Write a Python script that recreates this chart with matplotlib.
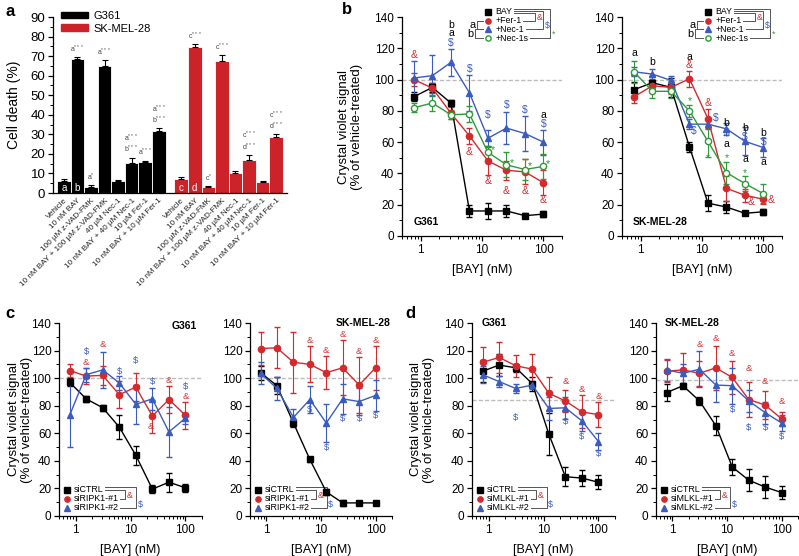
import numpy as np
import matplotlib.pyplot as plt
from matplotlib.patches import Patch
from matplotlib.ticker import MultipleLocator, LogLocator, NullFormatter, FixedLocator

plt.rcParams['font.family'] = ['Liberation Sans', 'DejaVu Sans']
plt.rcParams['mathtext.fontset'] = 'custom'
plt.rcParams['mathtext.rm'] = 'Liberation Sans'

W, H = 799, 556
RED = '#d42a2e'
BLUE = '#3b5bbf'
GREEN = '#2f9a3a'
BARRED = '#cc2229'

# ---------------- data ----------------
treatments = ["Vehicle", "10 nM BAY", "100 µM z-VAD-FMK", "10 nM BAY + 100 µM z-VAD-FMK",
              "40 µM Nec-1", "10 nM BAY + 40 µM Nec-1", "10 µM Fer-1", "10 nM BAY + 10 µM Fer-1"]
death_g361 = [6, 68.5, 3, 65, 6, 15.5, 16, 31.5]
death_g361_err = [1, 1, 1, 3, 0.5, 2.5, 0.5, 1.5]
death_sk = [7, 74.5, 3, 67.5, 10, 17, 5.5, 28.5]
death_sk_err = [1, 1.5, 0.5, 3, 1.5, 2.5, 0.5, 1.5]
inside_g361 = ["a", "b", "", "", "", "", "", ""]
inside_sk = ["c", "d", "", "", "", "", "", ""]
notes_g361 = ["", "a$^{***}$", "a$^{*}$", "a$^{***}$", "", "a$^{***}$\nb$^{***}$", "a$^{***}$", "a$^{***}$\nb$^{***}$"]
notes_sk = ["", "c$^{***}$", "c$^{*}$", "c$^{***}$", "", "c$^{***}$\nd$^{***}$", "", "c$^{***}$\nd$^{***}$"]

bay_nm = [0.78, 1.56, 3.125, 6.25, 12.5, 25, 50, 100]

b_series = ["BAY", "+Fer-1", "+Nec-1", "+Nec-1s"]
b_g361 = [[89, 95, 85, 16, 16, 16, 13, 14],
          [100, 94.5, 78.5, 64, 48, 42, 41, 34],
          [101, 102.5, 111, 91.5, 62.5, 69, 65.5, 60],
          [82, 85, 77.5, 78, 53.5, 45.5, 42.5, 44.5]]
b_g361_err = [[3, 3, 2, 4, 5, 4, 1.5, 2],
              [4, 3, 4, 5, 9, 6, 8, 8],
              [11, 13, 8.5, 11.5, 5, 10, 11, 8],
              [3, 5, 3, 5, 4, 8, 7, 8]]
b_sk = [[93.5, 98, 95, 57, 21, 18.5, 14.5, 15.5],
        [89, 96, 95, 100.5, 75, 30.5, 26, 23.5],
        [105, 103.5, 99.5, 71.5, 71.5, 68.5, 60.5, 56.5],
        [105, 92.5, 92.5, 80, 60.5, 40.5, 33.5, 27]]
b_sk_err = [[5, 4, 6, 3, 5, 4, 1, 2],
            [4, 4, 4, 5, 6, 8, 4, 3],
            [3, 3, 3, 3, 3, 4, 9, 6],
            [7, 4, 4, 4, 10, 7, 5, 6]]

c_series = ["siCTRL", "siRIPK1-#1", "siRIPK1-#2"]
c_g361 = [[97, 85, 78.5, 64.5, 44, 19.5, 24.5, 20.5],
          [105.5, 101.5, 102, 88, 93.5, 72.5, 84.5, 73],
          [73, 102.5, 106, 96.5, 81, 85, 61, 71]]
c_g361_err = [[3, 2, 2, 9, 7, 3, 7, 3],
              [5, 6, 7, 10, 10, 12, 10, 10],
              [23, 5, 13, 5, 14, 8, 18, 4]]
c_sk = [[104, 94.5, 67.5, 41, 17.5, 9.5, 9.5, 9.5],
        [121.5, 122, 111.5, 110, 104, 107.5, 95, 107.5],
        [103.5, 92.5, 71.5, 84.5, 67.5, 85, 83, 87.5]]
c_sk_err = [[5, 6, 3, 2, 2, 2, 0.5, 0.5],
            [12, 15, 22, 13, 12, 20, 20, 16],
            [8, 8, 6, 10, 14, 11, 10, 11]]

d_series = ["siCTRL", "siMLKL-#1", "siMLKL-#2"]
d_g361 = [[105, 109.5, 107.5, 96, 59.5, 28.5, 27.5, 24.5],
          [111.5, 115, 109, 106.5, 89, 83.5, 75.5, 73.5],
          [102.5, 97.5, 92.5, 95, 78, 78.5, 69, 54]]
d_g361_err = [[8, 8, 3, 5, 15, 7, 6, 5],
              [11, 11, 8, 11, 12, 8, 12, 9],
              [6, 4, 3, 3, 8, 8, 7, 6]]
d_sk = [[89.5, 94.5, 83.5, 65.5, 35.5, 26, 21, 17],
        [105, 106, 103.5, 107.5, 100.5, 84.5, 80.5, 70.5],
        [106, 103.5, 106.5, 95, 94.5, 83.5, 75, 67.5]]
d_sk_err = [[6, 2, 3, 7, 6, 8, 8, 5],
            [8, 12, 9, 16, 12, 13, 10, 5],
            [8, 7, 13, 12, 13, 8, 8, 6]]

# significance marks: (x, y, text, colour)
K = 'k'
marks_b_g361 = [(0.78, 116, '&', RED),
                (3.125, 135, 'b', K), (3.125, 129.5, 'a', K), (3.125, 123.5, '$', BLUE),
                (6.25, 106.5, '$', BLUE), (6.25, 54, '&', RED),
                (12.5, 77.5, '$', BLUE), (12.5, 35, '&', RED), (14.8, 55, '*', GREEN),
                (25, 84, '$', BLUE), (25, 29, '&', RED), (31, 46.5, '*', GREEN),
                (50, 80.5, '$', BLUE), (50, 28.5, '&', RED), (59, 45, '*', GREEN),
                (100, 77.5, 'a', K), (100, 71.5, '$', BLUE), (100, 23, '&', RED), (119, 46, '*', GREEN)]
marks_b_sk = [(0.78, 117, 'a', K), (1.56, 111, 'b', K),
              (6.25, 114.5, 'a', K), (6.25, 109, '&', RED), (6.25, 86, '*', GREEN), (7.4, 67, '$', BLUE),
              (12.5, 85, '&', RED), (16.5, 75.5, '$', BLUE), (12.5, 50, '*', GREEN),
              (25, 72, 'b', K), (25, 66, '$', BLUE), (25, 58.5, 'a', K), (25, 50, '*', GREEN),
              (50, 69, 'b', K), (50, 63, '$', BLUE), (50, 49, 'a', K), (50, 40.5, '*', GREEN), (62, 21.5, '&', RED),
              (100, 66, 'b', K), (100, 60, '$', BLUE), (100, 47, 'a', K), (132, 23, '&', RED)]
marks_c_g361 = [(1.56, 119, '$', BLUE), (1.56, 111.5, '&', RED), (3.125, 124.5, '&', RED),
                (6.25, 105, '$', BLUE), (12.5, 113, '$', BLUE), (25, 97.5, '$', BLUE),
                (23, 65, '&', RED), (50, 98, '&', RED), (100, 94, '$', BLUE), (100, 86.5, '&', RED)]
marks_c_sk = [(6.25, 127, '&', RED), (12.5, 120, '&', RED), (25, 132, '&', RED),
              (50, 119, '&', RED), (100, 127.5, '&', RED),
              (6.25, 77, '$', BLUE), (12.5, 50, '$', BLUE), (25, 70.5, '$', BLUE),
              (50, 70.5, '$', BLUE), (100, 73, '$', BLUE)]
marks_d_g361 = [(3.125, 71.5, '$', BLUE), (25, 97.5, '&', RED), (25, 68.5, '$', BLUE),
                (50, 92, '&', RED), (50, 58, '$', BLUE), (100, 86.5, '&', RED), (100, 45, '$', BLUE)]
marks_d_sk = [(3.125, 124.5, '&', RED), (6.25, 128.5, '&', RED), (12.5, 118, '&', RED),
              (25, 107, '&', RED), (50, 97.5, '&', RED), (100, 83, '&', RED),
              (12.5, 77, '$', BLUE), (25, 64.5, '$', BLUE), (50, 64, '$', BLUE), (100, 57.5, '$', BLUE)]


def px_axes(fig, x0, y0, x1, y1):
    return fig.add_axes([x0 / W, 1 - y1 / H, (x1 - x0) / W, (y1 - y0) / H])


def style(ax):
    for s in ['top', 'right']:
        ax.spines[s].set_visible(False)
    for s in ['left', 'bottom']:
        ax.spines[s].set_linewidth(0.9)
    ax.tick_params(which='major', direction='out', length=3.5, width=0.9, labelsize=8.5, pad=2)
    ax.tick_params(which='minor', direction='out', length=2, width=0.7)


def curve_axes(ax, data, errs, colors, markers, fills, marks, ref, fs_mark):
    ax.set_xscale('log')
    ax.set_xlim(0.5, 200)
    ax.set_ylim(0, 140)
    ax.axhline(ref, color='#bdbdbd', lw=1.0, ls=(0, (3, 1.5)), zorder=0)
    for vals, err, c, m, f in zip(data, errs, colors, markers, fills):
        ax.errorbar(bay_nm, vals, yerr=err, color=c, marker=m, mfc=f, mec=c, ms=4.5,
                    lw=1.0, elinewidth=0.8, capsize=2, capthick=0.8, mew=1.0)
    for x, y, t, c in marks:
        ax.text(x, y, t, color=c, fontsize=fs_mark, ha='center', va='center')
    ax.yaxis.set_major_locator(MultipleLocator(20))
    ax.yaxis.set_minor_locator(MultipleLocator(10))
    ax.xaxis.set_major_locator(FixedLocator([1, 10, 100]))
    ax.xaxis.set_major_formatter(plt.FixedFormatter(['1', '10', '100']))
    ax.xaxis.set_minor_locator(LogLocator(base=10, subs=np.arange(2, 10)))
    ax.xaxis.set_minor_formatter(NullFormatter())
    style(ax)
    ax.set_xlabel('[BAY] (nM)', fontsize=9, labelpad=6)


def bracket_legend(ax, labels, colors, markers, fills, x0, y0, dy, fs, offsets, symbols, left=()):
    # offsets: (x offset past widest label, y offset above first row) per bracket
    fig = ax.figure
    renderer = fig.canvas.get_renderer()
    inv = ax.transAxes.inverted()
    ends = []
    for i, (lab, c, m, f) in enumerate(zip(labels, colors, markers, fills)):
        y = y0 - i * dy
        ax.plot([x0], [y], marker=m, color=c, mfc=f, mec=c, ms=3.8, ls='none',
                transform=ax.transAxes, clip_on=False)
        t = ax.text(x0 + 0.05, y, lab, fontsize=fs, ha='left', va='center', transform=ax.transAxes)
        bb = t.get_window_extent(renderer)
        ends.append(inv.transform((bb.x1, bb.y0))[0] + 0.008)
    wend = max(ends)
    for j, ((dx, yoff), (sym, c)) in enumerate(zip(offsets, symbols), start=1):
        xv = wend + dx
        ya = y0 + yoff
        yb = y0 - j * dy
        ax.plot([ends[0], xv, xv, ends[j]], [ya, ya, yb, yb], color='#555555', lw=0.7,
                transform=ax.transAxes, clip_on=False)
        ax.text(xv + 0.012, yb + 0.4 * dy, sym, color=c, fontsize=fs, ha='left', va='center',
                transform=ax.transAxes)
    for i1, i2, lab, xv in left:
        y1, y2 = y0 - i1 * dy, y0 - i2 * dy
        xh = x0 - 0.03
        ax.plot([xh, xv, xv, xh], [y1, y1, y2, y2], color='#555555', lw=0.7,
                transform=ax.transAxes, clip_on=False)
        ax.text(xv - 0.01, (y1 + y2) / 2, lab, fontsize=fs + 1.5, ha='right', va='center',
                transform=ax.transAxes)


fig = plt.figure(figsize=(W / 100, H / 100), dpi=100)

# ---------------- panel a ----------------
axa = px_axes(fig, 53, 17, 287, 193)
pos_g = np.arange(8)
pos_s = np.arange(8) + 8.65
ekw = dict(ecolor='black', elinewidth=0.8, capsize=2, capthick=0.8)
axa.bar(pos_g, death_g361, width=1.0, color='black', edgecolor='white', linewidth=0.6,
        yerr=[np.zeros(8), death_g361_err], error_kw=ekw)
axa.bar(pos_s, death_sk, width=1.0, color=BARRED, edgecolor='white', linewidth=0.6,
        yerr=[np.zeros(8), death_sk_err], error_kw=ekw)
for pos, vals, errs, ins, notes in [(pos_g, death_g361, death_g361_err, inside_g361, notes_g361),
                                     (pos_s, death_sk, death_sk_err, inside_sk, notes_sk)]:
    for p, v, e, i_t, n_t in zip(pos, vals, errs, ins, notes):
        if i_t:
            axa.text(p, 2.8, i_t, color='white', fontsize=7, ha='center', va='center')
        if n_t:
            axa.text(p, v + e + 1.2, n_t, color='#444444', fontsize=5, ha='center', va='bottom',
                     linespacing=1.0)
axa.set_xlim(-0.8, 16.45)
axa.set_ylim(0, 90)
axa.yaxis.set_major_locator(MultipleLocator(10))
axa.yaxis.set_minor_locator(MultipleLocator(5))
axa.set_xticks(np.concatenate([pos_g, pos_s]))
axa.set_xticklabels(treatments + treatments, rotation=45, ha='right', rotation_mode='anchor')
style(axa)
axa.tick_params(axis='y', labelsize=9.5)
axa.tick_params(axis='x', length=0, pad=3, labelsize=5.9, labelcolor='#222222')
axa.set_ylabel('Cell death (%)', fontsize=10)
axa.yaxis.set_label_coords(-0.135, 0.5)
axa.legend(handles=[Patch(color='black'), Patch(color=BARRED)], labels=['G361', 'SK-MEL-28'],
           loc='upper left', bbox_to_anchor=(0.015, 1.06), frameon=False, fontsize=8,
           handlelength=2.4, handleheight=0.55, labelspacing=0.25, borderaxespad=0, handletextpad=0.5)

# ---------------- panel b ----------------
b_colors = ['black', RED, BLUE, GREEN]
b_markers = ['s', 'o', '^', 'o']
b_fills = ['black', RED, BLUE, 'white']
b_offsets = [(0.03, -0.007), (0.08, 0.002), (0.125, 0.011)]
b_symbols = [('&', RED), ('$', BLUE), ('*', GREEN)]
b_left = [(1, 2, 'a', 0.47), (2, 3, 'b', 0.455)]
for (x0, x1), data, errs, marks, name in [((402, 562), b_g361, b_g361_err, marks_b_g361, 'G361'),
                                           ((622, 782), b_sk, b_sk_err, marks_b_sk, 'SK-MEL-28')]:
    ax = px_axes(fig, x0, 17, x1, 236)
    curve_axes(ax, data, errs, b_colors, b_markers, b_fills, marks, 100, 7.5)
    ax.text(0.07, 0.065, name, transform=ax.transAxes, fontsize=7.5, fontweight='bold', va='center')
    bracket_legend(ax, b_series, b_colors, b_markers, b_fills, 0.535, 1.024, 0.04, 6.3,
                   b_offsets, b_symbols, b_left)
    if name == 'G361':
        ax.set_ylabel('Crystal violet signal\n(% of vehicle-treated)', fontsize=9.5, linespacing=1.1)
        ax.yaxis.set_label_coords(-0.245, 0.5)

# ---------------- panels c and d ----------------
cd_colors = ['black', RED, BLUE]
cd_markers = ['s', 'o', '^']
cd_fills = ['black', RED, BLUE]
cd_offsets = [(0.035, 0.0), (0.11, 0.014)]
cd_symbols = [('&', RED), ('$', BLUE)]
panels = [((59, 202), c_series, c_g361, c_g361_err, marks_c_g361, 100, 'G361', (0.965, 0.985, 'right'), True, -0.185),
          ((250, 392), c_series, c_sk, c_sk_err, marks_c_sk, 100, 'SK-MEL-28', (0.99, 1.0, 'right'), False, 0),
          ((472, 615), d_series, d_g361, d_g361_err, marks_d_g361, 84, 'G361', (0.07, 1.0, 'left'), True, -0.26),
          ((656, 798), d_series, d_sk, d_sk_err, marks_d_sk, 98.5, 'SK-MEL-28', (0.06, 1.0, 'left'), False, 0)]
for (x0, x1), labels, data, errs, marks, ref, name, (tx, ty, tha), ylab, ylx in panels:
    ax = px_axes(fig, x0, 323, x1, 516)
    curve_axes(ax, data, errs, cd_colors, cd_markers, cd_fills, marks, ref, 6.8)
    ax.text(tx, ty, name, transform=ax.transAxes, fontsize=7.5, fontweight='bold', ha=tha, va='center')
    bracket_legend(ax, labels, cd_colors, cd_markers, cd_fills, 0.055, 0.135, 0.046, 6.4,
                   cd_offsets, cd_symbols)
    if ylab:
        ax.set_ylabel('Crystal violet signal\n(% of vehicle-treated)', fontsize=9.5, linespacing=1.1)
        ax.yaxis.set_label_coords(ylx, 0.5)

for t, x, y in [('a', 5, 12), ('b', 342, 10), ('c', 5, 313), ('d', 405, 313)]:
    fig.text(x / W, 1 - y / H, t, fontsize=12, fontweight='bold', ha='left', va='center')

fig.savefig('out.png', dpi=100)
